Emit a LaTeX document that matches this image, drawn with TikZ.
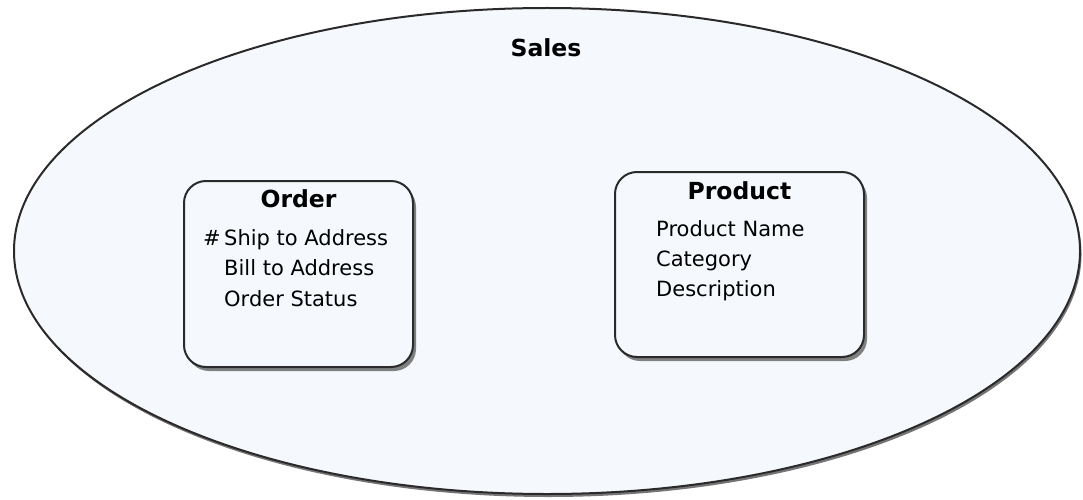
\documentclass[tikz,border=0pt]{standalone}
\usepackage{fontspec}
\setmainfont{DejaVu Sans}
\usetikzlibrary{shapes.geometric, shadows, positioning}

\definecolor{salesfill}{HTML}{F5F9FD}
\definecolor{salesline}{HTML}{2A2A2A}

\begin{document}
\begin{tikzpicture}[
    x=1pt, y=1pt,
    context/.style={
        ellipse,
        draw=salesline,
        fill=salesfill,
        line width=2pt,
        minimum width=1066pt,
        minimum height=486pt,
        drop shadow={shadow xshift=1.5pt, shadow yshift=-3pt, fill=black!60, opacity=0.9}
    },
    entity/.style={
        draw=salesline,
        fill=salesfill,
        rounded corners=22pt,
        line width=2pt,
        drop shadow={shadow xshift=3pt, shadow yshift=-4pt, fill=black!55, opacity=0.9}
    },
    title/.style={anchor=base, font=\fontsize{23.5}{28}\selectfont\bfseries, inner sep=0pt},
    attr/.style={anchor=base west, font=\fontsize{21}{25}\selectfont, inner sep=0pt}
]
\useasboundingbox (0,0) rectangle (1083,499);

%% ── Bounded context ──────────────────────────────────────────────────────────
\node[context] (sales) at (547,248) {};
\node[title] (salesname) at (546,442) {Sales};

%% ── Order ────────────────────────────────────────────────────────────────────
\node[entity, minimum width=229pt, minimum height=186pt] (order) at (298.5,225) {};
\node[title] (ordername) at ([yshift=-27pt]order.north) {Order};
\node[attr] (oship) at ([xshift=41pt, yshift=-65pt]order.north west)
    {\llap{\#\,}Ship to Address};
\node[attr] (obill) at ([yshift=-30.5pt]oship.base west) {Bill to Address};
\node[attr] (ostatus) at ([yshift=-30.5pt]obill.base west) {Order Status};

%% ── Product ──────────────────────────────────────────────────────────────────
\node[entity, minimum width=249pt, minimum height=185pt] (product) at (739.5,234.5) {};
\node[title] (productname) at ([yshift=-28pt]product.north) {Product};
\node[attr] (pname) at ([xshift=42pt, yshift=-65pt]product.north west) {Product Name};
\node[attr] (pcat) at ([yshift=-30pt]pname.base west) {Category};
\node[attr] (pdesc) at ([yshift=-30pt]pcat.base west) {Description};

\end{tikzpicture}
\end{document}
